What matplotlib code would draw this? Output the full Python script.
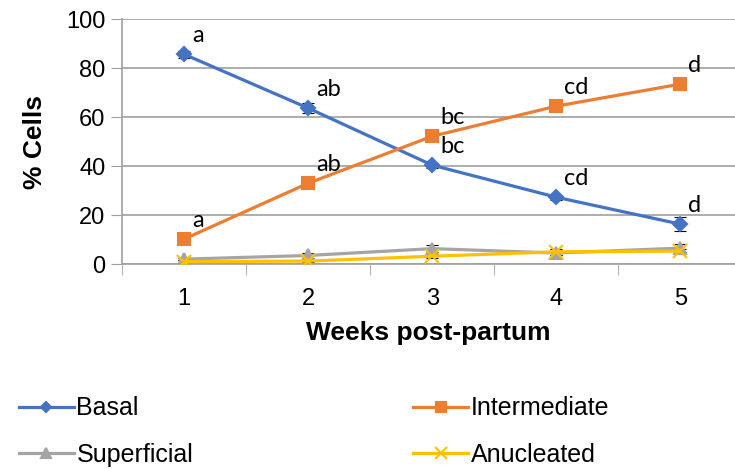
import matplotlib.pyplot as plt
import numpy as np

weeks = [1, 2, 3, 4, 5]
basal = [85.7, 63.7, 40.4, 27.3, 16.3]
basal_err = [1.5, 2.0, 1.0, 1.0, 3.0]
intermediate = [10.2, 33.0, 52.2, 64.5, 73.5]
intermediate_err = [0.8, 1.0, 1.2, 1.0, 1.2]
superficial = [2.0, 3.5, 6.3, 4.5, 6.5]
superficial_err = [0.5, 1.0, 1.5, 1.0, 1.5]
anucleated = [1.0, 1.2, 3.2, 5.0, 5.3]
anucleated_err = [0.5, 0.5, 0.8, 1.2, 1.0]
basal_letters = ["a", "ab", "bc", "cd", "d"]
inter_letters = ["a", "ab", "bc", "cd", "d"]

plt.rcParams['font.family'] = ['Liberation Sans', 'DejaVu Sans']

fig = plt.figure(figsize=(7.35, 4.69), dpi=100)
ax = fig.add_axes([0.166, 0.437, 0.834, 0.522])

series = [
    ("Basal", basal, basal_err, "#4472C4", "D", 7),
    ("Intermediate", intermediate, intermediate_err, "#ED7D31", "s", 9),
    ("Superficial", superficial, superficial_err, "#A5A5A5", "^", 9),
    ("Anucleated", anucleated, anucleated_err, "#FFC000", "x", 10),
]
handles = {}
for name, vals, err, col, mk, ms in series:
    ax.errorbar(weeks, vals, yerr=err, fmt='none', ecolor='black', elinewidth=0.8,
                capsize=4, capthick=0.8, zorder=2)
    h, = ax.plot(weeks, vals, color=col, lw=2.3, marker=mk, markersize=ms,
                 markeredgecolor=col, markeredgewidth=1.5, zorder=3)
    handles[name] = h

# significance letters, upper right of each point
for x, y, t in zip(weeks, basal, basal_letters):
    ax.annotate(t, (x, y), xytext=(8, 19), textcoords='offset pixels',
                fontsize=17, family='Lato', ha='left', va='center')
for x, y, t in zip(weeks, intermediate, inter_letters):
    ax.annotate(t, (x, y), xytext=(8, 19), textcoords='offset pixels',
                fontsize=17, family='Lato', ha='left', va='center')

ax.set_xlim(0.5, 5.44)
ax.set_ylim(0, 100)
ax.set_yticks(np.arange(0, 101, 20))
ax.set_xticks(weeks)
ax.set_xticks([0.5, 1.5, 2.5, 3.5, 4.5], minor=True)
ax.tick_params(axis='x', which='major', length=0, pad=17, labelsize=17)
ax.tick_params(axis='x', which='minor', length=8, color='#A0A0A0', direction='out')
ax.tick_params(axis='y', length=8, color='#A0A0A0', labelsize=17, pad=4)
ax.grid(axis='y', color='#A0A0A0', lw=1.2)
ax.set_axisbelow(True)
for s in ['top', 'right']:
    ax.spines[s].set_visible(False)
for s in ['left', 'bottom']:
    ax.spines[s].set_color('#A0A0A0')
    ax.spines[s].set_linewidth(1.2)

ax.set_xlabel("Weeks post-partum", fontsize=19, fontweight='bold', labelpad=8)
ax.set_ylabel("% Cells", fontsize=19, fontweight='bold', labelpad=14)

order = ["Basal", "Superficial", "Intermediate", "Anucleated"]
fig.legend([handles[n] for n in order], order, loc='upper left',
           bbox_to_anchor=(-0.005, 0.203), ncol=2, frameon=False, fontsize=18,
           handlelength=2.2, handletextpad=0.1, columnspacing=8.8,
           labelspacing=0.9, markerscale=0.8)

fig.savefig("out.png", dpi=100)
